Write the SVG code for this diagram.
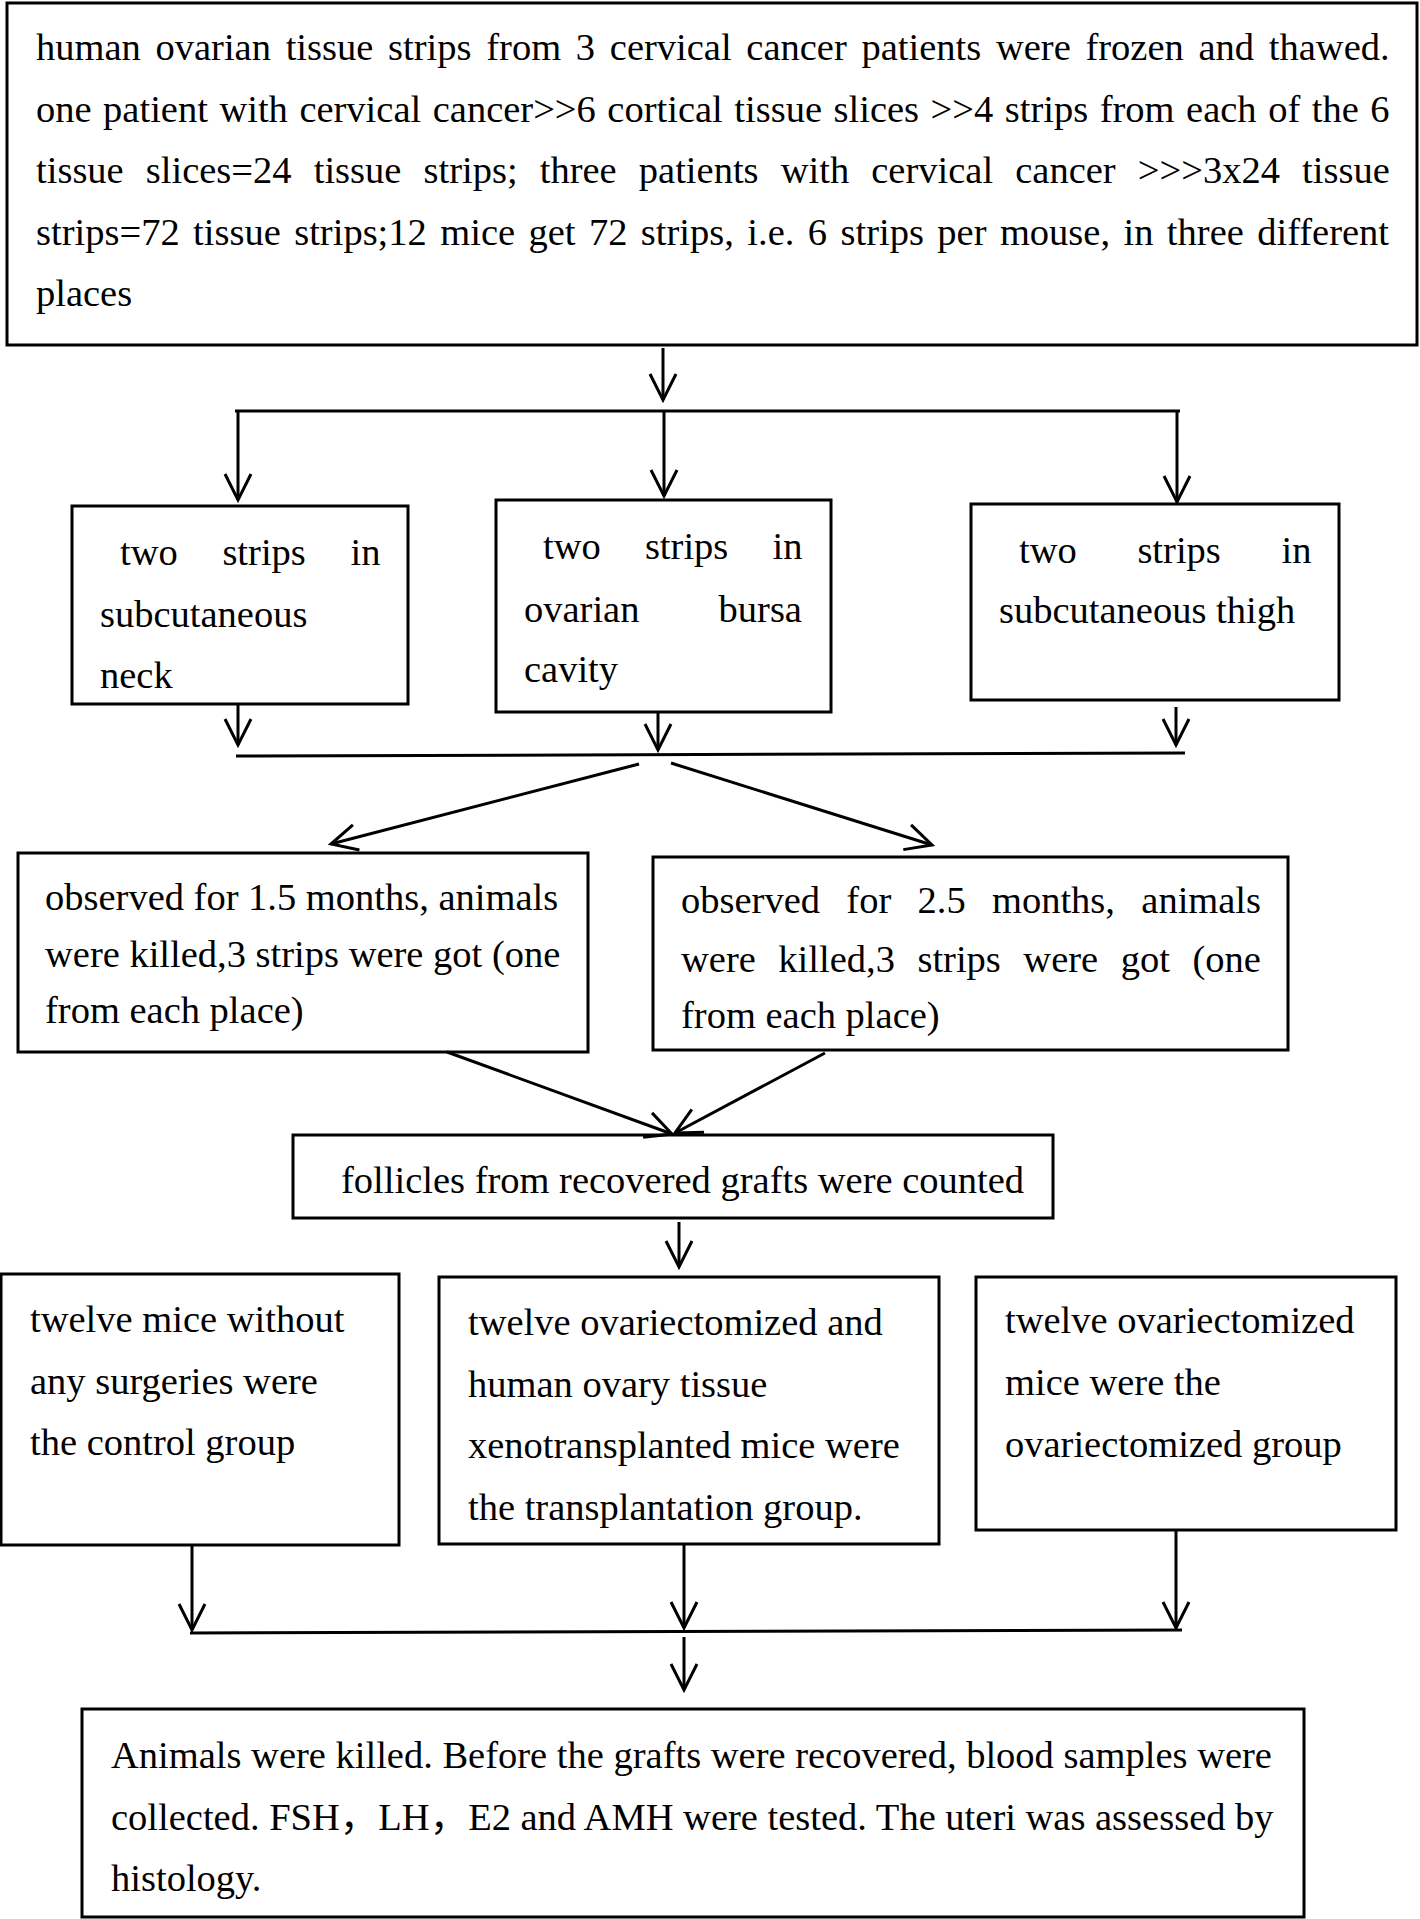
<svg xmlns="http://www.w3.org/2000/svg" width="1420" height="1919" viewBox="0 0 1420 1919">
<style>
.box{fill:#fff;stroke:#000;stroke-width:3}
.t{font-family:"Liberation Serif","Times New Roman","Noto Sans CJK SC",serif;font-size:38.5px;fill:#000}
.c{stroke:#000;stroke-width:3;fill:none}
.a{marker-end:url(#ah)}
</style>
<defs>
<marker id="ah" markerUnits="userSpaceOnUse" markerWidth="40" markerHeight="40" refX="0" refY="0" orient="auto" overflow="visible">
<path d="M-26,-13 L0,0 L-26,13" fill="none" stroke="#000" stroke-width="3"/>
</marker>
</defs>
<rect width="1420" height="1919" fill="#fff"/>

<g id="n-top">
<rect class="box" x="7" y="3" width="1410" height="342"/>
<text class="t" x="36" y="60" word-spacing="5.1">human ovarian tissue strips from 3 cervical cancer patients were frozen and thawed.</text>
<text class="t" x="36" y="122" word-spacing="1.9">one patient with cervical cancer&gt;&gt;6 cortical tissue slices &gt;&gt;4 strips from each of the 6</text>
<text class="t" x="36" y="183" word-spacing="12.5">tissue slices=24 tissue strips; three patients with cervical cancer &gt;&gt;&gt;3x24 tissue</text>
<text class="t" x="36" y="245" word-spacing="3.8">strips=72 tissue strips;12 mice get 72 strips, i.e. 6 strips per mouse, in three different</text>
<text class="t" x="36" y="306">places</text>
</g>

<g id="n-neck">
<rect class="box" x="72" y="506" width="336" height="198"/>
<text class="t" x="120" y="565" word-spacing="35">two strips in</text>
<text class="t" x="100" y="627">subcutaneous</text>
<text class="t" x="100" y="688">neck</text>
</g>

<g id="n-bursa">
<rect class="box" x="496" y="500" width="335" height="212"/>
<text class="t" x="543" y="559" word-spacing="34.5">two strips in</text>
<text class="t" x="524" y="622" word-spacing="69.5">ovarian bursa</text>
<text class="t" x="524" y="682">cavity</text>
</g>

<g id="n-thigh">
<rect class="box" x="971" y="504" width="368" height="196"/>
<text class="t" x="1019" y="563" word-spacing="51">two strips in</text>
<text class="t" x="999" y="623">subcutaneous thigh</text>
</g>

<g id="n-15">
<rect class="box" x="18" y="853" width="570" height="199"/>
<text class="t" x="45" y="910">observed for 1.5 months, animals</text>
<text class="t" x="45" y="967">were killed,3 strips were got (one</text>
<text class="t" x="45" y="1023">from each place)</text>
</g>

<g id="n-25">
<rect class="box" x="653" y="857" width="635" height="193"/>
<text class="t" x="681" y="913" word-spacing="16.7">observed for 2.5 months, animals</text>
<text class="t" x="681" y="972" word-spacing="12.9">were killed,3 strips were got (one</text>
<text class="t" x="681" y="1028">from each place)</text>
</g>

<g id="n-follicles">
<rect class="box" x="293" y="1135" width="760" height="83"/>
<text class="t" x="341" y="1193">follicles from recovered grafts were counted</text>
</g>

<g id="n-control">
<rect class="box" x="1" y="1274" width="398" height="271"/>
<text class="t" x="30" y="1332">twelve mice without</text>
<text class="t" x="30" y="1394">any surgeries were</text>
<text class="t" x="30" y="1455">the control group</text>
</g>

<g id="n-transplant">
<rect class="box" x="439" y="1277" width="500" height="267"/>
<text class="t" x="468" y="1335">twelve ovariectomized and</text>
<text class="t" x="468" y="1397">human ovary tissue</text>
<text class="t" x="468" y="1458">xenotransplanted mice were</text>
<text class="t" x="468" y="1520">the transplantation group.</text>
</g>

<g id="n-ovx">
<rect class="box" x="976" y="1277" width="420" height="253"/>
<text class="t" x="1005" y="1333">twelve ovariectomized</text>
<text class="t" x="1005" y="1395">mice were the</text>
<text class="t" x="1005" y="1457">ovariectomized group</text>
</g>

<g id="n-final">
<rect class="box" x="82" y="1709" width="1222" height="208"/>
<text class="t" x="111" y="1768">Animals were killed. Before the grafts were recovered, blood samples were</text>
<text class="t" x="111" y="1830">collected. FSH，LH，E2 and AMH were tested. The uteri was assessed by</text>
<text class="t" x="111" y="1891">histology.</text>
</g>

<g id="connectors">
<line class="c a" x1="663" y1="348" x2="663" y2="400"/>
<line class="c" x1="235" y1="411" x2="1180" y2="411"/>
<line class="c a" x1="238" y1="411" x2="238" y2="500"/>
<line class="c a" x1="664" y1="411" x2="664" y2="496"/>
<line class="c a" x1="1177" y1="411" x2="1177" y2="502"/>
<line class="c a" x1="238" y1="705" x2="238" y2="745"/>
<line class="c a" x1="658" y1="713" x2="658" y2="750"/>
<line class="c a" x1="1176" y1="707" x2="1176" y2="745"/>
<line class="c" x1="236" y1="756" x2="1185" y2="753"/>
<line class="c a" x1="639" y1="764" x2="331" y2="844"/>
<line class="c a" x1="671" y1="763" x2="932" y2="845"/>
<line class="c a" x1="447" y1="1052" x2="672" y2="1134"/>
<line class="c a" x1="825" y1="1053" x2="675" y2="1133"/>
<line class="c a" x1="679" y1="1222" x2="679" y2="1267"/>
<line class="c a" x1="192" y1="1545" x2="192" y2="1630"/>
<line class="c a" x1="684" y1="1544" x2="684" y2="1628"/>
<line class="c a" x1="1176" y1="1530" x2="1176" y2="1628"/>
<line class="c" x1="190" y1="1633" x2="1182" y2="1630"/>
<line class="c a" x1="684" y1="1637" x2="684" y2="1690"/>
</g>
</svg>
